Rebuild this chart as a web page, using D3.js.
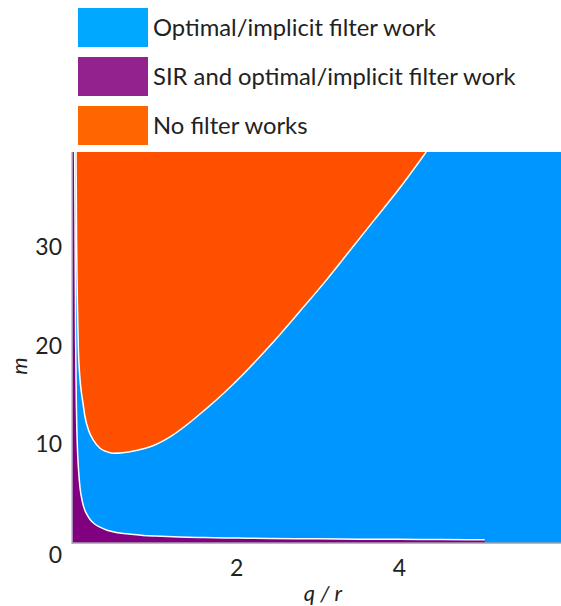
<!DOCTYPE html>
<html>
<head>
<meta charset="utf-8">
<script src="https://cdn.jsdelivr.net/npm/d3@7"></script>
<style>
  html, body { margin: 0; padding: 0; background: #fff; }
  svg { display: block; }
  text { font-family: Lato, "Open Sans", sans-serif; fill: #222; }
</style>
</head>
<body>
<svg id="chart" width="561" height="606"></svg>
<script>
// ---- data ----
const legendLabels = ["Optimal/implicit filter work", "SIR and optimal/implicit filter work", "No filter works"];
const legendColors = ["#00a8ff", "#93218e", "#ff6600"];
const regionColors = { optimal: "#0096ff", sir: "#800080", none: "#ff5000" };

// boundary of "SIR works" region (q/r, m)
const sirQR = [0.008, 0.012, 0.02, 0.03, 0.04, 0.055, 0.074, 0.1, 0.13, 0.155, 0.2, 0.25, 0.32, 0.4, 0.48, 0.56, 0.7, 0.85, 1.0, 1.3, 1.6, 2.0, 2.4, 3.0, 3.5, 4.0, 4.5, 5.05];
const sirM  = [39.6, 33.5, 20.5, 13.6, 10.1, 7.5, 5.6, 4.3, 3.4, 2.95, 2.35, 1.95, 1.6, 1.32, 1.15, 1.02, 0.88, 0.77, 0.7, 0.6, 0.55, 0.5, 0.46, 0.42, 0.39, 0.37, 0.35, 0.33];

// boundary of "no filter works" region (q/r, m)
const noneQR = [0.025, 0.032, 0.041, 0.053, 0.07, 0.09, 0.11, 0.135, 0.18, 0.24, 0.32, 0.4, 0.48, 0.6, 0.75, 0.97, 1.2, 1.4, 1.59, 1.85, 2.08, 2.4, 2.77, 3.1, 3.39, 3.7, 4.0, 4.33];
const noneM  = [39.6, 30.5, 24.6, 19.8, 17.0, 15.3, 14.2, 12.8, 11.4, 10.4, 9.6, 9.25, 9.1, 9.15, 9.35, 9.85, 10.85, 12.05, 13.35, 15.25, 17.1, 19.9, 23.4, 26.6, 29.6, 32.8, 35.9, 39.6];

const yTicks = [10, 20, 30];
const xTicks = [2, 4];

// ---- layout ----
const svg = d3.select("#chart");
const plot = { left: 72, right: 561, top: 152, bottom: 543 };
const x = d3.scaleLinear().domain([0, 6]).range([74, 562]);
const y = d3.scaleLinear().domain([0, 39.6]).range([543, 152]);

svg.append("clipPath").attr("id", "clip")
  .append("rect").attr("x", plot.left).attr("y", plot.top)
  .attr("width", plot.right - plot.left).attr("height", plot.bottom - plot.top);

const g = svg.append("g").attr("clip-path", "url(#clip)");

// background: optimal region
g.append("rect").attr("x", plot.left).attr("y", plot.top)
  .attr("width", plot.right - plot.left).attr("height", plot.bottom - plot.top)
  .attr("fill", regionColors.optimal);

const sirData = sirQR.map((q, i) => [q, sirM[i]]);
const noneData = noneQR.map((q, i) => [q, noneM[i]]);

const curve = d3.curveMonotoneX;

// SIR region (below curve, left)
g.append("path")
  .datum([[0, 39.6], ...sirData])
  .attr("d", d3.area().x(d => (d[0] === 0 ? plot.left - 2 : x(d[0]))).y0(y(0) + 2).y1(d => y(d[1])).curve(curve))
  .attr("fill", regionColors.sir);

// no-filter region (above curve)
g.append("path")
  .datum(noneData)
  .attr("d", d3.area().x(d => x(d[0])).y0(plot.top - 5).y1(d => y(d[1])).curve(curve))
  .attr("fill", regionColors.none);

// white boundary lines
const line = d3.line().x(d => x(d[0])).y(d => y(d[1])).curve(curve);
g.append("path").datum(sirData).attr("d", line)
  .attr("fill", "none").attr("stroke", "#fff").attr("stroke-width", 1.5);
g.append("path").datum(noneData).attr("d", line)
  .attr("fill", "none").attr("stroke", "#fff").attr("stroke-width", 1.5);

// axis lines
svg.append("line").attr("x1", plot.left).attr("x2", plot.left)
  .attr("y1", plot.top).attr("y2", plot.bottom + 1)
  .attr("stroke", "#b8b8c8").attr("stroke-width", 1.5);
svg.append("line").attr("x1", plot.left).attr("x2", plot.right)
  .attr("y1", plot.bottom).attr("y2", plot.bottom)
  .attr("stroke", "#a0a0a8").attr("stroke-width", 1.5);

// y tick labels
svg.selectAll(".ytick").data(yTicks).enter().append("text")
  .attr("x", 62).attr("y", d => y(d)).attr("dy", "0.35em")
  .attr("text-anchor", "end").attr("font-size", 23).text(d => d);
svg.append("text").attr("x", 62).attr("y", 555).attr("dy", "0.35em")
  .attr("text-anchor", "end").attr("font-size", 23).text("0");

// x tick labels
svg.selectAll(".xtick").data(xTicks).enter().append("text")
  .attr("x", d => x(d)).attr("y", 568).attr("dy", "0.35em")
  .attr("text-anchor", "middle").attr("font-size", 23).text(d => d);

// axis titles
svg.append("text").attr("x", 323).attr("y", 593).attr("dy", "0.35em")
  .attr("text-anchor", "middle").attr("font-size", 22).attr("font-style", "italic")
  .text("q / r");
svg.append("text").attr("transform", "translate(19,366) rotate(-90)")
  .attr("dy", "0.35em").attr("text-anchor", "middle")
  .attr("font-size", 22).attr("font-style", "italic").text("m");

// legend
const lg = svg.append("g");
legendLabels.forEach((lab, i) => {
  const top = 8 + i * 49;
  lg.append("rect").attr("x", 78).attr("y", top).attr("width", 70).attr("height", 39)
    .attr("fill", legendColors[i]);
  lg.append("text").attr("x", 153).attr("y", top + 20).attr("dy", "0.35em")
    .attr("font-size", 23.8).text(lab);
});
</script>
</body>
</html>
